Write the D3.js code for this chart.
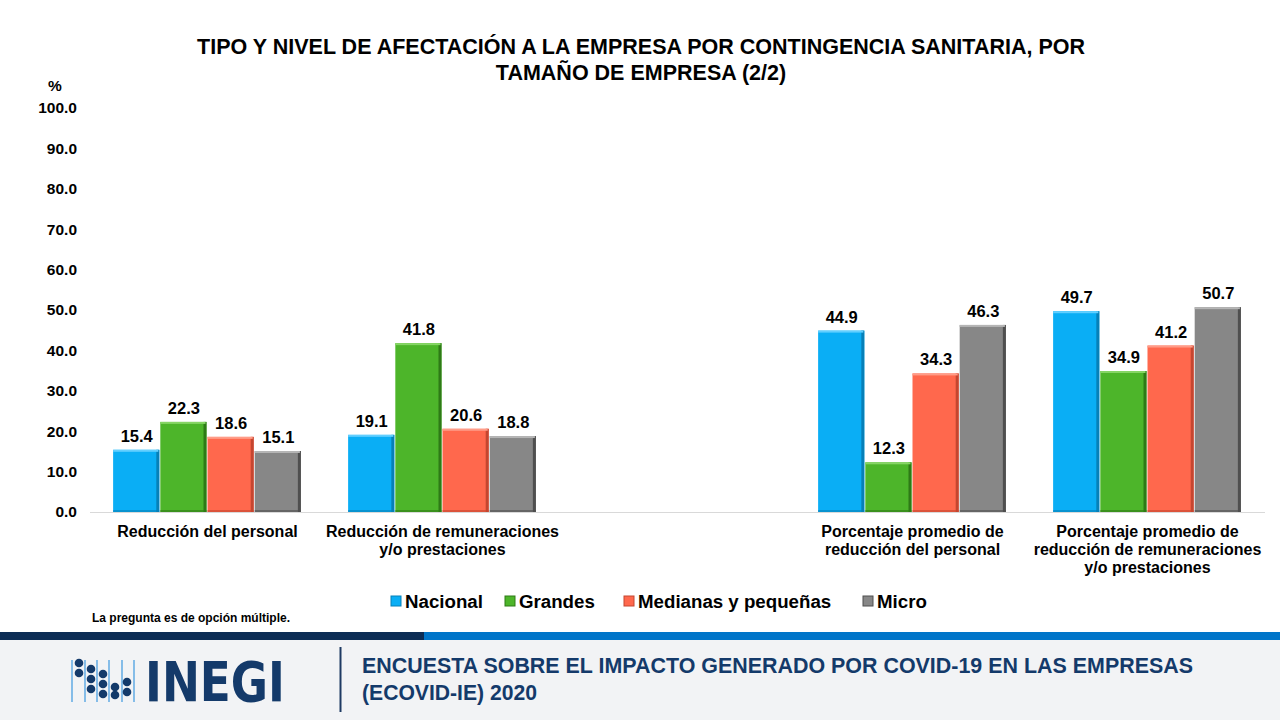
<!DOCTYPE html>
<html>
<head>
<meta charset="utf-8">
<script src="https://cdn.jsdelivr.net/npm/d3@7/dist/d3.min.js"></script>
<style>
  html, body { margin: 0; padding: 0; background: #ffffff; }
  svg { display: block; font-family: "Liberation Sans", Arial, sans-serif; }
</style>
</head>
<body>
<svg id="chart" width="1280" height="720"></svg>
<script>
// ---------- DATA ----------
const categories = [
  "Reducción del personal",
  "Reducción de remuneraciones y/o prestaciones",
  "",
  "Porcentaje promedio de reducción del personal",
  "Porcentaje promedio de reducción de remuneraciones y/o prestaciones"
];
const categoryLines = [
  ["Reducción del personal"],
  ["Reducción de remuneraciones", "y/o prestaciones"],
  [],
  ["Porcentaje promedio de", "reducción del personal"],
  ["Porcentaje promedio de", "reducción de remuneraciones", "y/o prestaciones"]
];
const seriesNames = ["Nacional", "Grandes", "Medianas y pequeñas", "Micro"];
const nacional = [15.4, 19.1, null, 44.9, 49.7];
const grandes  = [22.3, 41.8, null, 12.3, 34.9];
const medianas = [18.6, 20.6, null, 34.3, 41.2];
const micro    = [15.1, 18.8, null, 46.3, 50.7];
const yTicks = [0, 10, 20, 30, 40, 50, 60, 70, 80, 90, 100];

const titleLines = [
  "TIPO Y NIVEL DE AFECTACIÓN A LA EMPRESA POR CONTINGENCIA SANITARIA, POR",
  "TAMAÑO DE EMPRESA (2/2)"
];
const noteText = "La pregunta es de opción múltiple.";
const footerLines = [
  "ENCUESTA SOBRE EL IMPACTO GENERADO POR COVID-19 EN LAS EMPRESAS",
  "(ECOVID-IE) 2020"
];

const seriesValues = [nacional, grandes, medianas, micro];
const fills  = ["#0AAEF5", "#4DB52A", "#FF684D", "#878787"];
const darks  = ["#0780B8", "#2E7A16", "#C44630", "#4F4F4F"];
const lights = ["#62CFFF", "#86D565", "#FF9C88", "#B5B5B5"];

// ---------- LAYOUT ----------
const svg = d3.select("#chart");
const plot = { left: 90, right: 1265, top: 108, bottom: 512 };

const x0 = d3.scaleBand().domain(categories.map((c, i) => i)).range([plot.left, plot.right]).paddingInner(0).paddingOuter(0);
const x1 = d3.scaleBand().domain(seriesNames).range([0, x0.bandwidth()]).paddingOuter(0.49).paddingInner(0);
const y = d3.scaleLinear().domain([0, 100]).range([plot.bottom, plot.top]);
const color = d3.scaleOrdinal().domain(seriesNames).range(fills);
const dark = d3.scaleOrdinal().domain(seriesNames).range(darks);
const light = d3.scaleOrdinal().domain(seriesNames).range(lights);

// Title
svg.append("g").selectAll("text").data(titleLines).join("text")
  .attr("x", 641).attr("y", (d, i) => 54 + i * 26)
  .attr("text-anchor", "middle")
  .attr("font-size", 21.5).attr("font-weight", "bold").attr("fill", "#000")
  .text(d => d);

// Y axis
const yAxis = d3.axisLeft(y).tickValues(yTicks).tickFormat(d3.format(".1f")).tickSize(0).tickPadding(0);
const yg = svg.append("g").attr("transform", `translate(77,0)`).call(yAxis);
yg.select(".domain").remove();
yg.selectAll("text").attr("font-size", 15.5).attr("font-weight", "bold").attr("fill", "#000")
  .attr("font-family", '"Liberation Sans", Arial, sans-serif');
svg.append("text").attr("x", 55).attr("y", 91).attr("text-anchor", "middle")
  .attr("font-size", 15.5).attr("font-weight", "bold").text("%");

// Baseline
svg.append("line").attr("x1", plot.left).attr("x2", plot.right)
  .attr("y1", y(0) + 0.5).attr("y2", y(0) + 0.5)
  .attr("stroke", "#D9D9D9").attr("stroke-width", 1);

// Bars
const barData = [];
categories.forEach((c, ci) => {
  seriesNames.forEach((s, si) => {
    const v = seriesValues[si][ci];
    if (v != null) barData.push({ ci, s, v });
  });
});
const bw = x1.bandwidth();
const bars = svg.append("g").selectAll("g").data(barData).join("g")
  .attr("transform", d => `translate(${x0(d.ci) + x1(d.s)},0)`);
bars.append("rect")
  .attr("x", 0).attr("y", d => y(d.v)).attr("width", bw - 1).attr("height", d => y(0) - y(d.v))
  .attr("fill", d => color(d.s));
bars.append("rect")
  .attr("x", bw - 4).attr("y", d => y(d.v)).attr("width", 3).attr("height", d => y(0) - y(d.v))
  .attr("fill", d => dark(d.s));
bars.append("rect")
  .attr("x", 0).attr("y", d => y(d.v)).attr("width", bw - 2).attr("height", 2)
  .attr("fill", d => light(d.s));
bars.append("rect")
  .attr("x", 0).attr("y", d => y(0) - 2).attr("width", bw - 1).attr("height", 2)
  .attr("fill", d => dark(d.s)).attr("opacity", 0.6);
bars.append("text")
  .attr("x", bw / 2).attr("y", d => y(d.v) - 8)
  .attr("text-anchor", "middle").attr("font-size", 16.5).attr("font-weight", "bold").attr("fill", "#000")
  .text(d => d3.format(".1f")(d.v));

// Category labels
const catG = svg.append("g").selectAll("text").data(categoryLines).join("text")
  .attr("text-anchor", "middle").attr("font-size", 16).attr("font-weight", "bold").attr("fill", "#000")
  .attr("x", (d, i) => x0(i) + x0.bandwidth() / 2);
catG.selectAll("tspan").data((d, i) => d.map(t => ({ t, i }))).join("tspan")
  .attr("x", d => x0(d.i) + x0.bandwidth() / 2)
  .attr("y", (d, j) => 537 + j * 18)
  .text(d => d.t);

// Legend
const legend = svg.append("g");
const legendX = d3.scaleOrdinal().domain(seriesNames).range([391, 505, 624, 863]);
seriesNames.forEach((s, i) => {
  const lx = legendX(s);
  legend.append("rect").attr("x", lx).attr("y", 596).attr("width", 10).attr("height", 10)
    .attr("fill", color(s)).attr("stroke", dark(s)).attr("stroke-width", 1);
  legend.append("text").attr("x", lx + 14).attr("y", 607.5)
    .attr("font-size", 18.7).attr("font-weight", "bold").attr("fill", "#000").text(s);
});

// Note
svg.append("text").attr("x", 92).attr("y", 622).attr("font-size", 12).attr("font-weight", "bold")
  .attr("fill", "#000").text(noteText);

// Footer
svg.append("rect").attr("x", 0).attr("y", 640).attr("width", 1280).attr("height", 80).attr("fill", "#F2F3F5");
svg.append("rect").attr("x", 0).attr("y", 632).attr("width", 424).attr("height", 8).attr("fill", "#0C2D55");
svg.append("rect").attr("x", 424).attr("y", 632).attr("width", 856).attr("height", 8).attr("fill", "#0075C9");
svg.append("line").attr("x1", 340.5).attr("x2", 340.5).attr("y1", 647).attr("y2", 712)
  .attr("stroke", "#1F3A63").attr("stroke-width", 2);
svg.append("g").selectAll("text").data(footerLines).join("text")
  .attr("x", 362).attr("y", (d, i) => 673 + i * 27)
  .attr("font-family", '"Liberation Sans Narrow", "Liberation Sans", Arial, sans-serif')
  .attr("font-size", 22.5).attr("font-weight", "bold").attr("fill", "#143A6A")
  .attr("textLength", (d, i) => i === 0 ? 831 : 175).attr("lengthAdjust", "spacingAndGlyphs")
  .text(d => d);

// INEGI logo
const logo = svg.append("g");
[72, 85, 97, 109, 122, 134].forEach(lxx => {
  logo.append("line").attr("x1", lxx).attr("x2", lxx).attr("y1", 660).attr("y2", 702)
    .attr("stroke", "#4A9FE0").attr("stroke-width", 1.3);
});
const dots = [[79, 663], [79, 673], [91, 669], [91, 679], [91, 689], [103, 674], [103, 684], [103, 694], [115, 687], [115, 695], [127, 682], [127, 692]];
dots.forEach(([cx, cy]) => {
  logo.append("circle").attr("cx", cx).attr("cy", cy).attr("r", 4.3).attr("fill", "#143A6A");
});
logo.append("text").attr("x", 145).attr("y", 701)
  .attr("font-family", '"DejaVu Sans", sans-serif').attr("font-weight", "bold")
  .attr("font-size", 55).attr("fill", "#143A6A")
  .attr("textLength", 140).attr("lengthAdjust", "spacingAndGlyphs")
  .text("INEGI");
</script>
</body>
</html>
